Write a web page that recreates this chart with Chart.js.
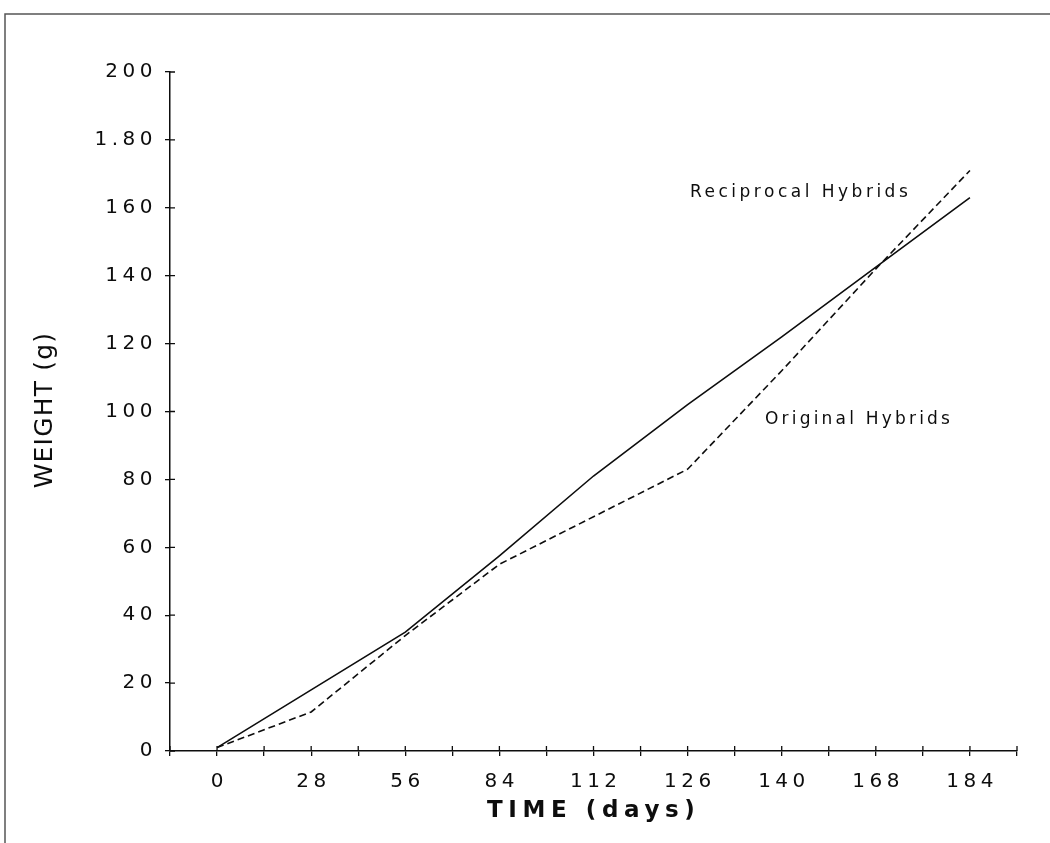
<!DOCTYPE html>
<html>
<head>
<meta charset="utf-8">
<script src="https://cdn.jsdelivr.net/npm/chart.js@4/dist/chart.umd.min.js"></script>
<style>
  body { margin: 0; background: #fff; }
  canvas { display: block; }
</style>
</head>
<body>
<canvas id="grafico" width="1050" height="843"></canvas>
<script>
// dias (rótulos do eixo x)
const dias = [0, 28, 56, 84, 112, 126, 140, 168, 184];
// peso em gramas
const reciprocos = [1, 18, 35, 57.5, 81, 102, 122, 142.5, 163];
const originais = [1, 11.5, 34, 55, 69, 83, 112, 142, 171];
// marcas do eixo y
const marcasY = [0, 20, 40, 60, 80, 100, 120, 140, 160, 180, 200];
const rotulosY = ["0", "20", "40", "60", "80", "100", "120", "140", "160", "1.80", "200"];

// cada dia fica numa marca ímpar do eixo (0..18)
const pontos = (serie) => serie.map((v, i) => ({ x: 2 * i + 1, y: v }));

const tinta = "#0d0d0d";
const fonte = "'DejaVu Sans', Verdana, sans-serif";
const espacoRotulo = 4.5;

// espaçamento entre letras só nos rótulos dos eixos
function espacar(scale, px) {
  if (scale._espacado) return;
  const orig = scale.drawLabels.bind(scale);
  scale.drawLabels = function (area) {
    const ctx = scale.ctx;
    ctx.save();
    ctx.letterSpacing = px + "px";
    orig(area);
    ctx.restore();
  };
  scale._espacado = true;
}

const enfeites = {
  id: "enfeites",
  beforeDraw(chart) {
    espacar(chart.scales.x, espacoRotulo);
    espacar(chart.scales.y, espacoRotulo);
  },
  afterDraw(chart) {
    const ctx = chart.ctx;
    const { left, bottom } = chart.chartArea;
    const sx = chart.scales.x, sy = chart.scales.y;
    ctx.save();
    ctx.strokeStyle = tinta;
    ctx.lineWidth = 1.3;
    // tracinhos para dentro
    ctx.beginPath();
    marcasY.forEach(v => {
      const py = sy.getPixelForValue(v);
      ctx.moveTo(left, py); ctx.lineTo(left + 5, py);
    });
    for (let i = 0; i <= 18; i++) {
      const px = sx.getPixelForValue(i);
      ctx.moveTo(px, bottom); ctx.lineTo(px, bottom - 5);
    }
    ctx.stroke();

    // moldura
    ctx.strokeStyle = "#555";
    ctx.lineWidth = 1.5;
    ctx.beginPath();
    ctx.moveTo(5, 843); ctx.lineTo(5, 14); ctx.lineTo(1050, 14);
    ctx.stroke();

    ctx.fillStyle = tinta;
    ctx.textBaseline = "middle";

    // título eixo x
    ctx.letterSpacing = "5.6px";
    ctx.font = "bold 23px " + fonte;
    ctx.textAlign = "left";
    ctx.fillText("TIME (days)", 487, 811);

    // título eixo y
    ctx.save();
    ctx.translate(45, 410);
    ctx.rotate(-Math.PI / 2);
    ctx.letterSpacing = "1.2px";
    ctx.font = "25px " + fonte;
    ctx.textAlign = "center";
    ctx.fillText("WEIGHT (g)", 0, 0);
    ctx.restore();

    // legendas das curvas
    ctx.font = "17px " + fonte;
    ctx.textAlign = "left";
    ctx.letterSpacing = "3.5px";
    ctx.fillText("Reciprocal Hybrids", 690, 193);
    ctx.letterSpacing = "3.2px";
    ctx.fillText("Original Hybrids", 765, 420);
    ctx.restore();
  }
};

new Chart(document.getElementById("grafico"), {
  type: "line",
  data: {
    datasets: [
      {
        label: "Reciprocal Hybrids",
        data: pontos(reciprocos),
        borderColor: tinta,
        borderWidth: 1.6,
        pointRadius: 0,
        tension: 0
      },
      {
        label: "Original Hybrids",
        data: pontos(originais),
        borderColor: tinta,
        borderWidth: 1.6,
        borderDash: [7, 4],
        pointRadius: 0,
        tension: 0
      }
    ]
  },
  options: {
    responsive: false,
    animation: false,
    layout: { padding: { top: 72, right: 33, left: 0, bottom: 0 } },
    plugins: { legend: { display: false }, tooltip: { enabled: false } },
    scales: {
      x: {
        type: "linear",
        min: 0,
        max: 18,
        border: { color: tinta, width: 1.5 },
        grid: { drawOnChartArea: false, tickLength: 5, color: tinta, lineWidth: 1.3 },
        ticks: {
          stepSize: 1,
          autoSkip: false,
          maxRotation: 0,
          padding: 14,
          labelOffset: espacoRotulo / 2,
          color: tinta,
          font: { family: fonte, size: 20 },
          callback: (v) => (v % 2 === 1 ? String(dias[(v - 1) / 2]) : "")
        },
        afterFit: (s) => { s.height = 92; }
      },
      y: {
        min: 0,
        max: 200,
        border: { color: tinta, width: 1.5 },
        grid: { drawOnChartArea: false, tickLength: 5, color: tinta, lineWidth: 1.3 },
        ticks: {
          stepSize: 20,
          padding: 8,
          color: tinta,
          font: { family: fonte, size: 20 },
          callback: (v) => rotulosY[marcasY.indexOf(v)]
        },
        afterFit: (s) => { s.width = 170; }
      }
    }
  },
  plugins: [enfeites]
});
</script>
</body>
</html>
